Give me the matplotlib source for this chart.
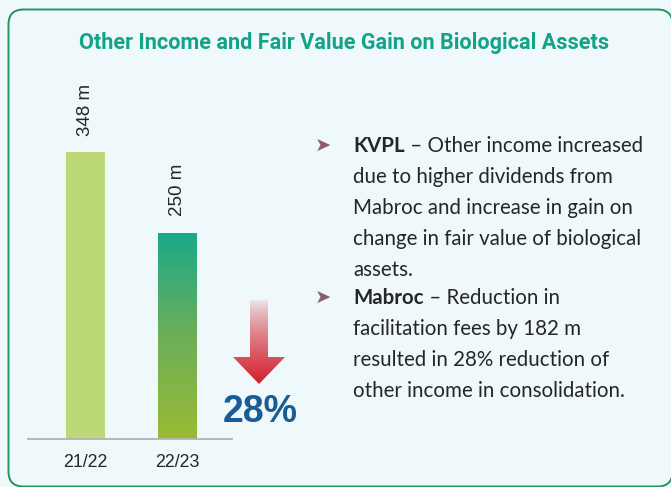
import numpy as np
import matplotlib
matplotlib.use("Agg")
import matplotlib.pyplot as plt
from matplotlib.patches import FancyBboxPatch, Polygon
from matplotlib.colors import LinearSegmentedColormap, to_rgb

# ---- data ----
years = ["21/22", "22/23"]
income_m = [348, 250]
change_pct = 28
title = "Other Income and Fair Value Gain on Biological Assets"
bullets = [
    ("KVPL", [" \u2013 Other income increased",
              "due to higher dividends from",
              "Mabroc and increase in gain on",
              "change in fair value of biological",
              "assets."]),
    ("Mabroc", [" \u2013 Reduction in",
                "facilitation fees by 182 m",
                "resulted in 28% reduction of",
                "other income in consolidation."]),
]

# ---- styling ----
BG = "#eff8fb"
W, H = 671, 487
fig = plt.figure(figsize=(W / 100, H / 100), dpi=100, facecolor=BG)

# overlay in pixel coordinates for the panel, title and notes
ov = fig.add_axes([0, 0, 1, 1])
ov.set_xlim(0, W)
ov.set_ylim(H, 0)
ov.axis("off")
ov.set_zorder(0)

panel = FancyBboxPatch((8.5, 9.5), 664, 477, boxstyle="round,pad=0,rounding_size=15",
                       facecolor=BG, edgecolor="#23955f", linewidth=1.4)
ov.add_patch(panel)

ov.text(344, 43, title, ha="center", va="center", fontsize=15.6,
        fontweight="bold", family="Roboto", color="#13a386")

# ---- bar chart ----
x0_px, x1_px = 28, 232
base_px, top_px = 439, 60
ax = fig.add_axes([x0_px / W, (H - base_px) / H, (x1_px - x0_px) / W, (base_px - top_px) / H])
ax.set_zorder(1)
ax.patch.set_alpha(0)
ymax = (base_px - top_px) / 0.8247
ax.set_xlim(-0.63, 1.60)
ax.set_ylim(0, ymax)

xs = np.arange(len(years))
bars = ax.bar(xs, income_m, width=0.42, color=["#bdd977", "none"], zorder=2)

# gradient fill for the current year bar
grad = LinearSegmentedColormap.from_list("g", ["#98bb34", "#6daf58", "#19a98a"])
b = bars[1]
bx, bw, bh = b.get_x(), b.get_width(), b.get_height()
img = ax.imshow(np.linspace(0, 1, 256).reshape(-1, 1), cmap=grad, aspect="auto",
                origin="lower", extent=(bx, bx + bw, 0, bh), zorder=2)
img.set_clip_path(b)
ax.set_xlim(-0.63, 1.60)
ax.set_ylim(0, ymax)

for xi, v in zip(xs, income_m):
    ax.text(xi, v + 20, f"{v} m", rotation=90, ha="center", va="bottom",
            fontsize=13.5, family="Liberation Sans", color="#262626")

for s in ["top", "right", "left"]:
    ax.spines[s].set_visible(False)
ax.spines["bottom"].set_color("#b3b3b3")
ax.spines["bottom"].set_linewidth(1.3)
ax.set_yticks([])
ax.set_xticks(xs)
ax.set_xticklabels(years, fontsize=12.8, family="Liberation Sans", color="#262626")
ax.tick_params(axis="x", length=0, pad=11)

# ---- decline arrow with fading shaft ----
arrow = Polygon([(250, 300), (268, 300), (268, 357), (285, 357), (259, 384),
                 (233, 357), (250, 357)], closed=True, facecolor="none", edgecolor="none")
ov.add_patch(arrow)
red = np.array(to_rgb("#d21f2b"))
t = np.linspace(0, 1, 256) ** 0.7
rgba = np.zeros((256, 1, 4))
rgba[:, 0, :3] = red
rgba[:, 0, 3] = t
aimg = ov.imshow(rgba, extent=(232, 286, 384, 298), origin="upper", aspect="auto", zorder=2)
aimg.set_clip_path(arrow)
ov.set_xlim(0, W)
ov.set_ylim(H, 0)

ov.text(260, 412, f"{change_pct}%", ha="center", va="center", fontsize=27,
        fontweight="bold", family="Liberation Sans", color="#1a5d94")

# ---- bullet notes ----
fig.canvas.draw()
renderer = fig.canvas.get_renderer()
txt_kw = dict(fontsize=14.8, family="Lato", color="#262626", va="baseline")
line_gap = 31
starts = [152, 304]
for (head, lines), y0 in zip(bullets, starts):
    ov.text(315, y0 - 6, "\u27a4", fontsize=14, family="DejaVu Sans", color="#8b5b72",
            va="center", ha="left")
    hb = ov.text(353, y0, head, fontweight="bold", **txt_kw)
    bb = hb.get_window_extent(renderer)
    ov.text(bb.x1, y0, lines[0], **txt_kw)
    for i, ln in enumerate(lines[1:], start=1):
        ov.text(353, y0 + i * line_gap, ln, **txt_kw)

fig.savefig("out.png", dpi=100, facecolor=BG)
